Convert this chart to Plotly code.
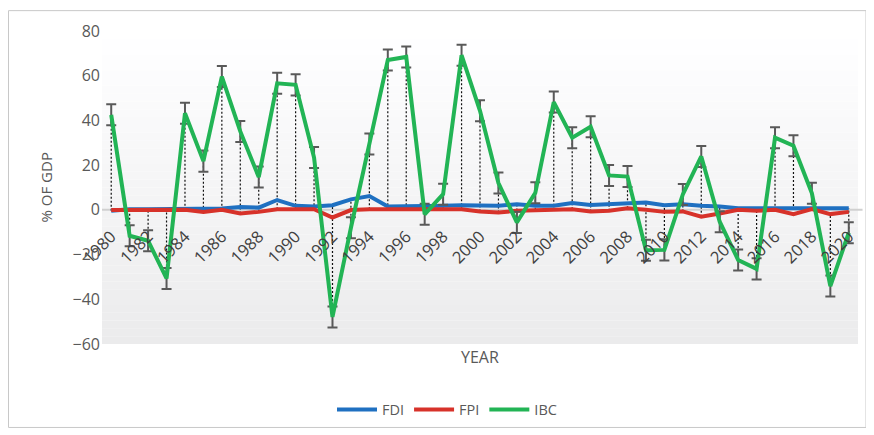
import plotly.graph_objects as go

years = list(range(1980, 2021))
fdi = [-0.4, 0.3, 0.3, 0.3, 0.4, 0.5, 0.6, 1.3, 1.0, 4.4,
       1.8, 1.5, 2.1, 4.7, 6.2, 1.5, 1.5, 1.5, 1.8, 2.1,
       1.8, 1.8, 2.5, 1.8, 1.8, 3.1, 2.2, 2.5, 3.1, 3.3,
       2.1, 2.5, 1.8, 1.5, 0.7, 0.7, 1.0, 1.0, 0.6, 0.6, 0.7]
fpi = [-0.1, 0.0, 0.0, 0.0, 0.0, -0.9, 0.0, -1.6, -0.9, 0.3,
       0.3, 0.3, -3.4, -0.1, 0.3, 0.3, 0.3, 0.3, 0.3, 0.3,
       -0.7, -1.2, -0.4, 0.0, 0.0, 0.3, -0.7, -0.4, 0.7, 0.0,
       -0.9, -0.7, -3.1, -1.6, 0.0, -0.4, 0.0, -1.9, 0.3, -1.9, -0.9]
ibc = [42.5, -11.6, -13.8, -30.7, 43.2, 21.8, 59.6, 35.1, 14.7, 56.6,
       55.9, 23.4, -47.9, -8.0, 29.5, 67.0, 68.4, -2.0, 7.0, 69.2,
       44.3, 12.0, -5.6, 7.6, 48.2, 32.3, 37.2, 15.4, 14.9, -18.1,
       -17.9, 6.9, 23.9, -5.3, -22.4, -26.4, 32.3, 28.7, 7.4, -34.1, -10.2]
ibc_err = 4.7

y_ticks = [-60, -40, -20, 0, 20, 40, 60, 80]
x_ticks = list(range(1980, 2021, 2))

# plot area in figure pixels (page body has an 8px offset)
PL, PR, PT, PB = 94, 850, 21, 336
PW, PH = PR - PL, PB - PT


def fx(px):
    return (px - PL) / PW


def fy(py):
    return (PB - py) / PH


fig = go.Figure()

# background gradient bands in plot area
n_bands = 40
y_lo, y_hi = -60, 80
for k in range(n_bands):
    f0 = k / n_bands
    f1 = (k + 1) / n_bands
    t = 1 - (f0 + f1) / 2  # 0 at top, 1 at bottom
    c = int(round(255 - 20 * t))
    fig.add_shape(type="rect", xref="x domain", yref="y",
                  x0=0, x1=1,
                  y0=y_lo + (y_hi - y_lo) * f0, y1=y_lo + (y_hi - y_lo) * f1,
                  fillcolor=f"rgb({c},{c},{min(255, c + 1)})", line=dict(width=0),
                  layer="below")

# zero line
fig.add_shape(type="line", xref="x domain", yref="y", x0=0, x1=1.006, y0=0, y1=0,
              line=dict(color="#d0d0d0", width=2), layer="below")

# high-low dotted lines
hx, hy = [], []
for i, yr in enumerate(years):
    vals = [fdi[i], fpi[i], ibc[i]]
    hx += [yr, yr, None]
    hy += [min(vals), max(vals), None]
fig.add_trace(go.Scatter(x=hx, y=hy, mode="lines", showlegend=False, hoverinfo="skip",
                         line=dict(color="#111111", width=1.2, dash="2px,2px")))

fig.add_trace(go.Scatter(x=years, y=fdi, mode="lines", name="FDI",
                         line=dict(color="#1f70c1", width=4)))
fig.add_trace(go.Scatter(x=years, y=fpi, mode="lines", name="FPI",
                         line=dict(color="#d7322a", width=4)))
fig.add_trace(go.Scatter(x=years, y=ibc, mode="lines", name="IBC",
                         line=dict(color="#22b455", width=4),
                         error_y=dict(type="constant", value=ibc_err, color="#595959",
                                      thickness=2, width=5)))

# outer border
fig.add_shape(type="rect", xref="paper", yref="paper",
              x0=fx(0.5), x1=fx(858), y0=fy(420), y1=fy(0.5),
              line=dict(color="#c8c8c8", width=1), fillcolor="rgba(0,0,0,0)")

fig.add_annotation(text="YEAR", xref="paper", yref="paper", x=0.5, y=fy(349),
                   showarrow=False, font=dict(size=16, color="#595959"), yanchor="middle")
fig.add_annotation(text="% OF GDP", xref="paper", yref="paper", x=fx(37), y=0.5,
                   textangle=-90, showarrow=False, font=dict(size=15, color="#595959"),
                   xanchor="center", yanchor="middle")

fig.update_layout(
    width=874, height=435,
    margin=dict(l=PL, r=874 - PR, t=PT, b=435 - PB),
    paper_bgcolor="white", plot_bgcolor="rgba(0,0,0,0)",
    font=dict(family="Open Sans", color="#595959"),
    showlegend=True,
    legend=dict(orientation="h", x=fx(439), xanchor="center",
                y=fy(402), yanchor="middle",
                font=dict(size=14.5, color="#595959"), itemwidth=40,
                bgcolor="rgba(0,0,0,0)"),
    xaxis=dict(range=[1979.5, 2020.5], tickvals=x_ticks, ticktext=[str(v) for v in x_ticks],
               tickangle=-45, showgrid=False, zeroline=False, showline=False, ticks="",
               anchor="free", position=60 / 140 - 13 / PH,
               tickfont=dict(size=16.5, color="#404040")),
    yaxis=dict(range=[-60, 80], tickvals=y_ticks, showgrid=False, zeroline=False,
               showline=False, ticks="", ticklabelstandoff=1,
               tickfont=dict(size=16, color="#595959")),
)

fig.write_html("out.html")
